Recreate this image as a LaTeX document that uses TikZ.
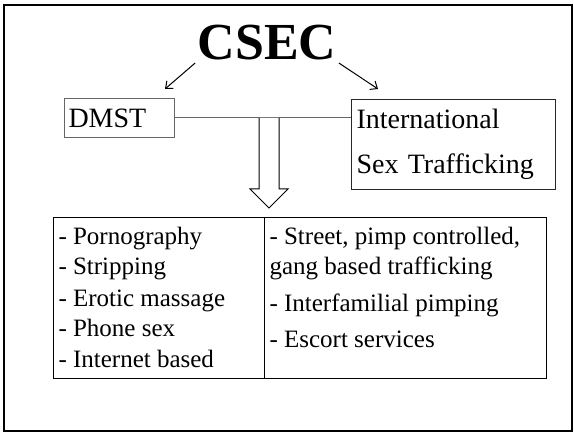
\documentclass[tikz,border=0pt]{standalone}
\usepackage{fontspec}
\setmainfont{Liberation Serif}
\usetikzlibrary{arrows.meta}
\begin{document}
\begin{tikzpicture}[x=1pt,y=-1pt,line width=1pt,>={Straight Barb[length=6pt,width=10pt]},
  every node/.style={inner sep=0pt},
  listitem/.style={anchor=base west,font=\fontsize{25pt}{30pt}\selectfont}]

\useasboundingbox (0,0) rectangle (574,433);
\path [draw,line width=2.2pt] (4,5) rectangle (572,431);

\node [anchor=base,font=\fontsize{52pt}{60pt}\selectfont\bfseries,inner sep=2pt] (csec) at (267,60) {CSEC};

\node [draw=black!60,anchor=north west,minimum width=110,minimum height=39,text width=102,align=left,inner sep=4pt,font=\fontsize{28pt}{34pt}\selectfont] (dmst) at (64,98) {DMST};
\node [draw=black!85,anchor=north west,minimum width=204,minimum height=90,text width=194,align=left,inner sep=5pt,font=\fontsize{28pt}{45pt}\selectfont] (intl) at (351,99) {International\\Sex Trafficking};

\coordinate (dmsttop) at (165,89);
\coordinate (intltop) at (378,89);
\draw[->] (csec.south west) -- (dmsttop);
\draw[->] (csec.south east) -- (intltop);

\draw[black!60] (dmst.east) -- (dmst.east -| intl.west);

%% hollow arrow down to the table
\path [draw,fill=white] (259,118) -- (259,189) -- (250,189) -- (269,208) -- (288,189) -- (279,189) -- (279,118);

\node [draw,anchor=north west,minimum width=493,minimum height=161] (table) at (53,217) {};
\draw (264,217) -- (264,378);

\node [listitem] (porn) at (58,245) {- Pornography};
\node [listitem] (strip) at (58,275) {- Stripping};
\node [listitem] (erotic) at (58,307) {- Erotic massage};
\node [listitem] (phone) at (58,337) {- Phone sex};
\node [listitem] (internet) at (58,367) {- Internet based};

\node [listitem] (street) at (269,245) {- Street, pimp controlled,};
\node [listitem] (gang) at (269,275) {gang based trafficking};
\node [listitem] (interfam) at (269,312) {- Interfamilial pimping};
\node [listitem] (escort) at (269,348) {- Escort services};

\end{tikzpicture}
\end{document}
